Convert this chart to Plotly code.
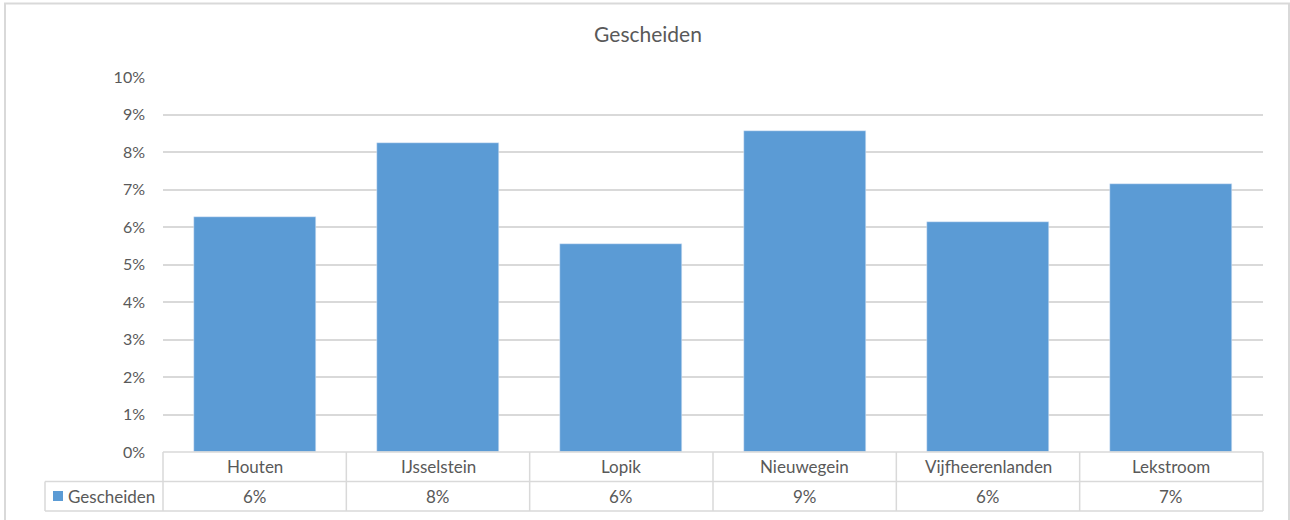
import plotly.graph_objects as go

categories = ["Houten", "IJsselstein", "Lopik", "Nieuwegein", "Vijfheerenlanden", "Lekstroom"]
values = [0.0627, 0.0824, 0.0555, 0.0856, 0.0613, 0.0715]
series_name = "Gescheiden"
title_text = "Gescheiden"

BAR = "#5b9bd5"
TXT = "#595959"
GRID = "#d9d9d9"
FONT = "Lato, 'Open Sans', sans-serif"

W, H = 1290, 520
L, R, T, B = 163, 27, 77, 68
pw, ph = W - L - R, H - T - B

def px_x(x):  # pixel -> paper
    return (x - L) / pw

def px_y(y):
    return 1 - (y - T) / ph

fig = go.Figure()
fig.add_trace(go.Bar(x=categories, y=values, name=series_name, marker_color=BAR,
                     width=0.667, showlegend=False, hoverinfo="skip"))

n = len(categories)
row1_bot = px_y(481.5)
row2_bot = px_y(511)
left_col = px_x(45)
LW = 1.5

shapes = []
# outer chart border
shapes.append(dict(type="rect", xref="paper", yref="paper", x0=px_x(5), x1=px_x(1289),
                   y0=px_y(540), y1=px_y(3.5), line=dict(color=GRID, width=2), layer="below"))
# table horizontal lines
shapes.append(dict(type="line", xref="paper", yref="paper", x0=0, x1=1, y0=0, y1=0,
                   line=dict(color=GRID, width=LW)))
shapes.append(dict(type="line", xref="paper", yref="paper", x0=left_col, x1=1, y0=row1_bot, y1=row1_bot,
                   line=dict(color=GRID, width=LW)))
shapes.append(dict(type="line", xref="paper", yref="paper", x0=left_col, x1=1, y0=row2_bot, y1=row2_bot,
                   line=dict(color=GRID, width=LW)))
# vertical lines
for i in range(n + 1):
    shapes.append(dict(type="line", xref="paper", yref="paper", x0=i / n, x1=i / n, y0=0, y1=row2_bot,
                       line=dict(color=GRID, width=LW)))
shapes.append(dict(type="line", xref="paper", yref="paper", x0=left_col, x1=left_col, y0=row1_bot, y1=row2_bot,
                   line=dict(color=GRID, width=LW)))
# legend key square
shapes.append(dict(type="rect", xref="paper", yref="paper", x0=px_x(53), x1=px_x(63),
                   y0=px_y(501), y1=px_y(491), line=dict(width=0), fillcolor=BAR))

TS = 17
annotations = []
for i, (c, v) in enumerate(zip(categories, values)):
    xc = (i + 0.5) / n
    annotations.append(dict(xref="paper", yref="paper", x=xc, y=(0 + row1_bot) / 2, text=c,
                            showarrow=False, font=dict(size=TS, color=TXT, family=FONT),
                            xanchor="center", yanchor="middle"))
    annotations.append(dict(xref="paper", yref="paper", x=xc, y=(row1_bot + row2_bot) / 2,
                            text=f"{round(v * 100):d}%", showarrow=False,
                            font=dict(size=TS, color=TXT, family=FONT), xanchor="center", yanchor="middle"))
annotations.append(dict(xref="paper", yref="paper", x=px_x(66), y=(row1_bot + row2_bot) / 2,
                        text=series_name, showarrow=False, font=dict(size=TS, color=TXT, family=FONT),
                        xanchor="left", yanchor="middle"))

fig.update_layout(
    width=W, height=H,
    margin=dict(l=L, r=R, t=T, b=B),
    paper_bgcolor="white", plot_bgcolor="white",
    title=dict(text=title_text, x=(648 / W), xanchor="center", y=1 - 35 / H, yanchor="middle",
               font=dict(size=21, color=TXT, family=FONT)),
    font=dict(family=FONT, color=TXT, size=16),
    xaxis=dict(showticklabels=False, showgrid=False, zeroline=False, showline=False,
               range=[-0.5, n - 0.5]),
    yaxis=dict(range=[0, 0.10], dtick=0.01, tickformat=".0%", showgrid=True, gridcolor=GRID,
               gridwidth=1.5, zeroline=False, showline=False, ticks="", ticklabelstandoff=17,
               tickfont=dict(size=16, color=TXT, family=FONT)),
    shapes=shapes, annotations=annotations, bargap=0,
)

fig.write_html("out.html", config={"displayModeBar": False},
               post_script="document.body.style.margin='0';document.body.style.overflow='hidden';")
